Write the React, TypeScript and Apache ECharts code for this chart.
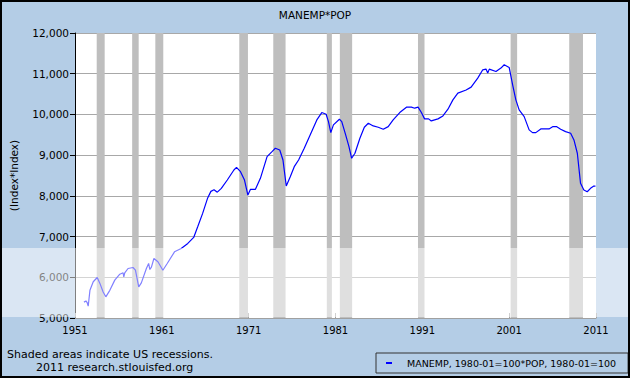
import React, { useEffect, useRef } from 'react';
import * as echarts from 'echarts';

// ---- Data ----
const chartTitle = 'MANEMP*POP';
const seriesName = 'MANEMP, 1980-01=100*POP, 1980-01=100';
const yAxisName = '(Index*Index)';
const footnotes = ['Shaded areas indicate US recessions.', '2011 research.stlouisfed.org'];

const xTickLabels = ['1951', '1961', '1971', '1981', '1991', '2001', '2011'];
const baseYear = 1951;

const years = [
  1952.03, 1952.26, 1952.4, 1952.52, 1952.72, 1953.1, 1953.56, 1953.87, 1954.24, 1954.55,
  1955.01, 1955.58, 1956.16, 1956.54, 1956.62, 1956.73, 1957.11, 1957.68, 1957.96, 1958.34,
  1958.64, 1959.22, 1959.48, 1959.62, 1959.8, 1960.09, 1960.55, 1961.12, 1961.62, 1962.46,
  1963.23, 1963.99, 1964.67, 1965.13, 1965.7, 1966.28, 1966.65, 1967.01, 1967.39, 1967.85,
  1968.54, 1969.3, 1969.6, 1970.06, 1970.52, 1970.91, 1971.21, 1971.78, 1972.35, 1973.12,
  1973.69, 1974.07, 1974.58, 1974.95, 1975.33, 1975.79, 1976.25, 1976.75, 1977.4, 1978.08,
  1978.85, 1979.42, 1979.92, 1980.19, 1980.46, 1980.76, 1981.45, 1981.72, 1982.17, 1982.55,
  1982.86, 1983.24, 1983.81, 1984.32, 1984.78, 1985.35, 1985.92, 1986.5, 1987.07, 1987.64,
  1988.4, 1989.17, 1989.74, 1990.12, 1990.51, 1990.89, 1991.26, 1991.72, 1992.03, 1992.8,
  1993.37, 1993.95, 1994.52, 1995.09, 1996.04, 1996.62, 1996.81, 1997.38, 1997.96, 1998.33,
  1998.53, 1998.71, 1999.48, 2000.05, 2000.43, 2001.0, 2001.4, 2001.77, 2002.15, 2002.73,
  2003.3, 2003.69, 2004.07, 2004.64, 2005.59, 2006.05, 2006.44, 2006.93, 2007.5, 2008.08,
  2008.46, 2008.85, 2009.22, 2009.6, 2009.99, 2010.37, 2010.75, 2010.94,
];

const values = [
  5390, 5420, 5380, 5290, 5680, 5890, 5995, 5850, 5640, 5520,
  5680, 5930, 6075, 6110, 6010, 6110, 6216, 6240, 6174, 5763,
  5862, 6216, 6339, 6190, 6250, 6462, 6380, 6174, 6339, 6625,
  6708, 6831, 6979, 7240, 7569, 7950, 8110, 8150, 8090, 8185,
  8389, 8635, 8701, 8593, 8389, 8020, 8160, 8160, 8431, 8963,
  9086, 9169, 9127, 8881, 8241, 8471, 8717, 8881, 9169, 9497,
  9866, 10046, 10005, 9824, 9553, 9743, 9883, 9824, 9497, 9209,
  8923, 9046, 9415, 9686, 9784, 9718, 9686, 9637, 9701, 9866,
  10046, 10178, 10178, 10153, 10178, 10046, 9891, 9891, 9841, 9891,
  9964, 10129, 10358, 10523, 10600, 10671, 10727, 10892, 11096, 11113,
  11015, 11113, 11055, 11138, 11220, 11153, 10727, 10358, 10112, 9947,
  9620, 9553, 9553, 9644, 9644, 9701, 9701, 9637, 9578, 9538,
  9373, 9046, 8308, 8143, 8101, 8185, 8241, 8241,
];

const recessionStarts = ['1953-07', '1957-08', '1960-04', '1969-12', '1973-11', '1980-01', '1981-07', '1990-07', '2001-03', '2007-12'];
const recessionEnds = ['1954-05', '1958-04', '1961-02', '1970-11', '1975-03', '1980-07', '1982-11', '1991-03', '2001-11', '2009-06'];

const FONT = 'DejaVu Sans';

function monthToYear(s: string, isEnd: boolean): number {
  const [y, m] = s.split('-').map(Number);
  return y + (isEnd ? m : m - 1) / 12;
}

export default function App() {
  const ref = useRef<HTMLDivElement>(null);

  useEffect(() => {
    document.body.style.margin = '0';
    if (!ref.current) return;
    const chart = echarts.init(ref.current, undefined, { renderer: 'svg' });

    const lineData = years.map((yr, i) => [yr - baseYear, values[i]]);
    const areas = recessionStarts.map((s, i) => [
      { xAxis: monthToYear(s, false) - baseYear },
      { xAxis: monthToYear(recessionEnds[i], true) - baseYear },
    ]);

    chart.setOption({
      animation: false,
      backgroundColor: '#B4CDE6',
      title: {
        text: chartTitle,
        left: 'center',
        top: 4,
        textStyle: { fontFamily: FONT, fontSize: 10.5, fontWeight: 'normal', color: '#000' },
      },
      legend: {
        left: 376,
        top: 353,
        padding: [5, 12, 5, 10],
        borderColor: '#333',
        borderWidth: 1,
        backgroundColor: 'transparent',
        itemWidth: 16,
        itemHeight: 2,
        icon: 'path://M0,0h6v2h-6z M16,0L16,2',
        itemStyle: { borderWidth: 0 },
        textStyle: { fontFamily: FONT, fontSize: 9.5, color: '#000' },
        data: [seriesName],
      },
      grid: {
        left: 72,
        right: 34,
        top: 33,
        bottom: 60,
        containLabel: false,
        show: true,
        backgroundColor: '#FFFFFF',
        borderWidth: 0,
      },
      xAxis: {
        type: 'value',
        min: 0,
        max: 60,
        interval: 10,
        axisLine: { show: true, lineStyle: { color: '#A0A0A0', width: 1 } },
        axisTick: { show: true, inside: true, length: 5, lineStyle: { color: '#A0A0A0' } },
        axisLabel: {
          margin: 7,
          fontFamily: FONT,
          fontSize: 10,
          color: '#000',
          formatter: (v: number) => xTickLabels[Math.round(v / 10)] ?? '',
        },
        splitLine: { show: false },
      },
      yAxis: {
        type: 'value',
        min: 5000,
        max: 12000,
        interval: 1000,
        name: yAxisName,
        nameLocation: 'middle',
        nameGap: 56,
        nameTextStyle: { fontFamily: FONT, fontSize: 10.5, color: '#000' },
        axisLine: { show: true, lineStyle: { color: '#000', width: 1 } },
        axisTick: { show: true, inside: false, length: 5, lineStyle: { color: '#000' } },
        axisLabel: {
          margin: 6,
          fontFamily: FONT,
          fontSize: 10.5,
          color: '#000',
          formatter: (v: number) => v.toLocaleString('en-US'),
        },
        splitLine: { show: true, lineStyle: { color: '#A8A8A8', width: 1 } },
      },
      series: [
        {
          name: seriesName,
          type: 'line',
          data: lineData,
          showSymbol: false,
          symbol: 'none',
          lineStyle: { color: '#0000FF', width: 1.2 },
          itemStyle: { color: '#0000FF' },
          z: 3,
          markArea: {
            silent: true,
            itemStyle: { color: '#BEBEBE', opacity: 1 },
            data: areas,
          },
        },
      ],
      graphic: [
        {
          type: 'rect',
          shape: { x: 0, y: 248, width: 630, height: 69 },
          style: { fill: 'rgba(255,255,255,0.5)' },
          silent: true,
          z: 100,
        },
        {
          type: 'text',
          left: 7,
          top: 349,
          style: { text: footnotes[0], fontFamily: FONT, fontSize: 11, fill: '#000' },
        },
        {
          type: 'text',
          left: 36,
          top: 362,
          style: { text: footnotes[1], fontFamily: FONT, fontSize: 11, fill: '#000' },
        },
        {
          type: 'rect',
          shape: { x: 1, y: 1, width: 628, height: 376 },
          style: { fill: 'none', stroke: '#000', lineWidth: 2 },
          silent: true,
          z: 101,
        },
      ],
    });

    return () => chart.dispose();
  }, []);

  return <div ref={ref} style={{ width: 630, height: 378 }} />;
}
